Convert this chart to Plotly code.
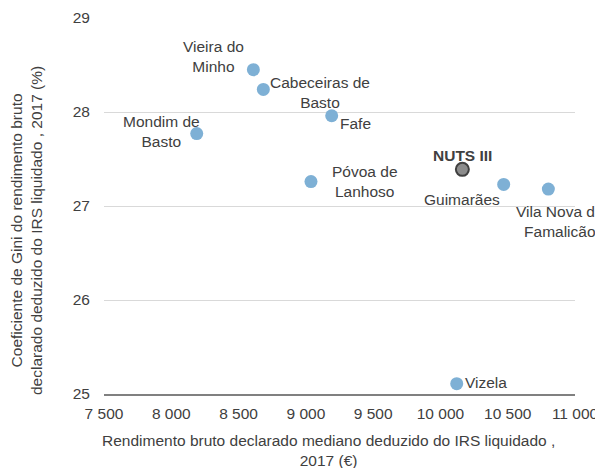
import plotly.graph_objects as go

# dados
municipios = [
    "Vieira do Minho",
    "Cabeceiras de Basto",
    "Mondim de Basto",
    "Fafe",
    "Póvoa de Lanhoso",
    "Guimarães",
    "Vila Nova de Famalicão",
    "Vizela",
]
rendimento = [8610, 8684, 8189, 9192, 9038, 10470, 10802, 10121]
gini = [28.45, 28.24, 27.77, 27.96, 27.26, 27.23, 27.18, 25.11]

nuts_nome = "NUTS III"
nuts_rendimento = [10163]
nuts_gini = [27.39]

x_ticks = [7500, 8000, 8500, 9000, 9500, 10000, 10500, 11000]
x_ticktext = ["7 500", "8 000", "8 500", "9 000", "9 500", "10 000", "10 500", "11 000"]
y_ticks = [25, 26, 27, 28, 29]

x_titulo = "Rendimento bruto declarado mediano deduzido do IRS liquidado ,<br>2017 (€)"
y_titulo = "Coeficiente de Gini do rendimento bruto<br>declarado deduzido do IRS liquidado , 2017 (%)"

FONT = "Liberation Sans, Arial, sans-serif"
TXT = "#404040"
FS = 15.5

# texto e posicao de cada rotulo (desvio em px relativo ao ponto)
rotulos = {
    "Vieira do Minho": ("Vieira do<br>Minho", "right", -7, 13),
    "Cabeceiras de Basto": ("Cabeceiras de<br>Basto", "left", 5, -3),
    "Mondim de Basto": ("Mondim de<br>Basto", "right", 5, 2),
    "Fafe": ("Fafe", "left", 6, -8),
    "Póvoa de Lanhoso": ("Póvoa de<br>Lanhoso", "left", 19, 0),
    "Guimarães": ("Guimarães", "center", -42, -15),
    "Vila Nova de Famalicão": ("Vila Nova de<br>Famalicão", "center", 12, -32),
    "Vizela": ("Vizela", "left", 6, 1),
}

fig = go.Figure()

fig.add_trace(
    go.Scatter(
        x=rendimento,
        y=gini,
        mode="markers",
        marker=dict(size=13, color="#7EB0D5"),
        cliponaxis=False,
        hovertext=municipios,
    )
)

fig.add_trace(
    go.Scatter(
        x=nuts_rendimento,
        y=nuts_gini,
        mode="markers",
        marker=dict(size=13, color="#8C8C8C", line=dict(color="#404040", width=2)),
        cliponaxis=False,
        hovertext=[nuts_nome],
    )
)

for nome, xv, yv in zip(municipios, rendimento, gini):
    texto, anchor, dx, dy = rotulos[nome]
    fig.add_annotation(
        x=xv, y=yv, text=texto, showarrow=False,
        xanchor=anchor, yanchor="middle", xshift=dx, yshift=dy,
        align="center", font=dict(family=FONT, size=FS, color=TXT),
    )

fig.add_annotation(
    x=nuts_rendimento[0], y=nuts_gini[0], text="<b>" + nuts_nome + "</b>",
    showarrow=False, xanchor="center", yanchor="middle", yshift=14,
    font=dict(family=FONT, size=FS, color=TXT),
)

# titulos dos eixos como anotacoes (posicao como no original)
fig.add_annotation(
    xref="paper", yref="paper", x=0.4756, y=0,
    xanchor="center", yanchor="middle", yshift=-56,
    text=x_titulo, showarrow=False, align="center",
    font=dict(family=FONT, size=FS, color=TXT),
)
fig.add_annotation(
    xref="paper", yref="paper", x=0, y=0.4335,
    xanchor="center", yanchor="middle", xshift=-78,
    text=y_titulo, showarrow=False, align="center", textangle=-90,
    font=dict(family=FONT, size=FS, color=TXT),
)

# a pagina tem 8 px de margem no body, por isso a figura e 8 px menor
fig.update_layout(
    width=595,
    height=460,
    margin=dict(l=96, r=28, t=10, b=74),
    plot_bgcolor="white",
    paper_bgcolor="white",
    showlegend=False,
    font=dict(family=FONT, size=FS, color=TXT),
)

fig.update_xaxes(
    range=[7500, 11000],
    tickvals=x_ticks,
    ticktext=x_ticktext,
    showgrid=False,
    zeroline=False,
    showline=True,
    linecolor="#808080",
    linewidth=2,
    ticks="",
    ticklabelstandoff=4,
    automargin=False,
    tickfont=dict(size=FS, color=TXT),
)

fig.update_yaxes(
    range=[25, 29],
    tickvals=y_ticks,
    showgrid=True,
    gridcolor="#D9D9D9",
    gridwidth=1,
    zeroline=False,
    showline=False,
    ticks="",
    ticklabelstandoff=13,
    automargin=False,
    tickfont=dict(size=FS, color=TXT),
)

fig.write_html("out.html")
